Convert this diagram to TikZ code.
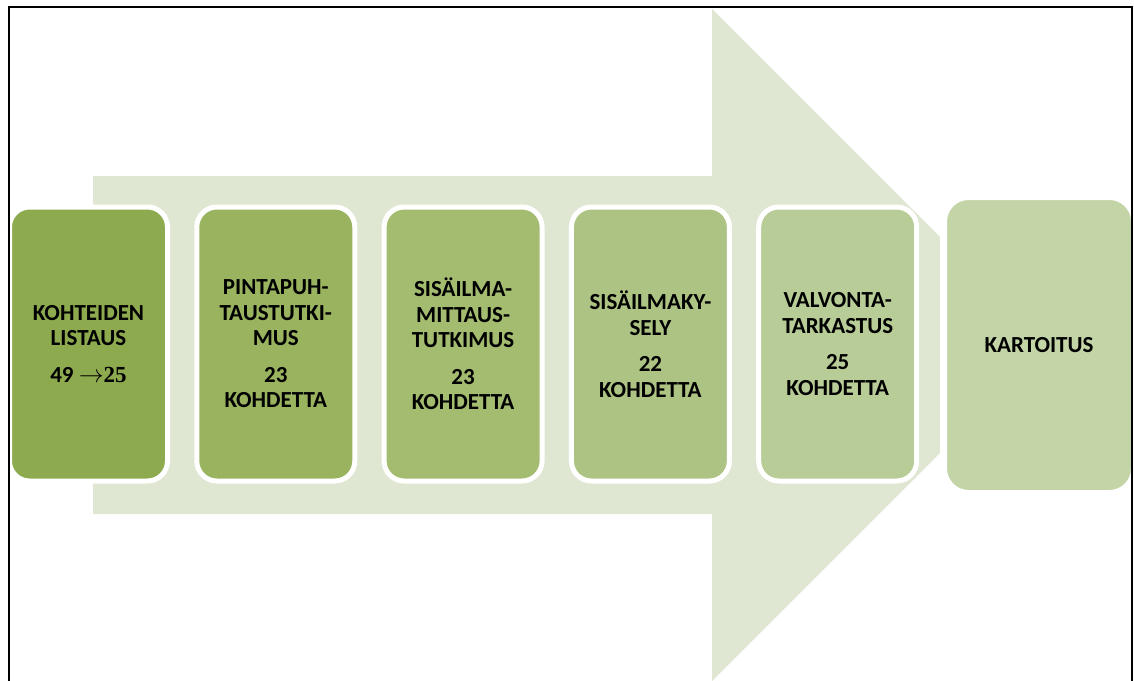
\documentclass[tikz,border=0pt]{standalone}
\usepackage{fontspec}
\setmainfont{Carlito}
\newfontfamily\numfont{Liberation Serif}
\usepackage{tikz}
\usetikzlibrary{positioning}
\usepackage{xcolor}
\definecolor{arrowgreen}{HTML}{DFE7D3}
\definecolor{stepA}{HTML}{8EAA4F}
\definecolor{stepB}{HTML}{99B35F}
\definecolor{stepC}{HTML}{A3BC6F}
\definecolor{stepD}{HTML}{ADC383}
\definecolor{stepE}{HTML}{B8CC97}
\definecolor{stepF}{HTML}{C3D4A7}
\tikzset{
  stepbox/.style={draw=white, line width=5pt, rounded corners=20pt, align=center,
    minimum width=158pt, minimum height=274pt, outer sep=0pt, inner sep=2pt,
    font=\bfseries\fontsize{23}{25.5}\selectfont},
  endbox/.style={stepbox, line width=7pt, rounded corners=25pt,
    minimum width=191pt, minimum height=297pt},
  bigarrow/.style={fill=arrowgreen, draw=none},
  frameline/.style={draw=black, line width=2.8pt}
}
\begin{document}
\begin{tikzpicture}[x=1pt, y=-1pt, node distance=29.3pt]
  \useasboundingbox (0,0) rectangle (1134,680);
  \clip (0,0) rectangle (1134,680);
  % background arrow
  \path[bigarrow] (93,176) -- (712,176) -- (712,9) -- (1048,345)
    -- (712,681) -- (712,514) -- (93,514) -- cycle;
  % steps
  \node[stepbox, fill=stepA] (l) at (88.5,344) {KOHTEIDEN\\LISTAUS\\[11pt]49 $\rightarrow${\numfont 25}};
  \node[stepbox, fill=stepB, right=of l] (p) {PINTAPUH-\\TAUSTUTKI-\\MUS\\[11pt]23\\KOHDETTA};
  \node[stepbox, fill=stepC, right=of p] (s) {SISÄILMA-\\MITTAUS-\\TUTKIMUS\\[11pt]23\\KOHDETTA};
  \node[stepbox, fill=stepD, right=of s] (k) {SISÄILMAKY-\\SELY\\[11pt]22\\KOHDETTA};
  \node[stepbox, fill=stepE, right=of k] (v) {VALVONTA-\\TARKASTUS\\[11pt]25\\KOHDETTA};
  \node[endbox, fill=stepF] (m) at (1039,345) {KARTOITUS};
  % frame
  \draw[frameline] (9,690) -- (9,7) -- (1132,7) -- (1132,690);
\end{tikzpicture}
\end{document}
